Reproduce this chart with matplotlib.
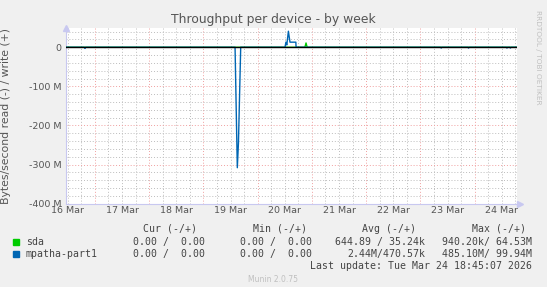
import matplotlib
matplotlib.use("Agg")
import matplotlib.pyplot as plt
import numpy as np

# time in hours since 16 Mar 00:00, values in bytes/s (M = 1e6)
t_start = 11.2
t_end = 210.75  # last update 24 Mar 18:45

days = ["16 Mar", "17 Mar", "18 Mar", "19 Mar", "20 Mar", "21 Mar", "22 Mar", "23 Mar", "24 Mar"]

mpatha_t = [t_start, 19.3, 19.6, 19.9, 86.0, 87.0, 87.5, 88.5,
            108.1, 108.5, 108.9, 109.6, 110.3, 112.9, 113.0,
            177.0, 177.2, 177.5, 189.1, 189.3, 189.6,
            206.1, 206.3, 206.6, 207.6, 207.8, 208.1, t_end]
mpatha_v = [0, 0, -3, 0, 0, -308, -245, 0,
            0, 13, 6, 41, 13, 13, 0,
            0, -2, 0, 0, -2, 0,
            0, -2, 0, 0, -2, 0, 0]

sda_t = [t_start, 116.9, 117.4, 117.9, t_end]
sda_v = [0, 0, 11, 0, 0]

yticks = [0, -100, -200, -300, -400]
ytick_labels = ["0", "-100 M", "-200 M", "-300 M", "-400 M"]

legend_names = ["sda", "mpatha-part1"]
legend_colors = ["#00cc00", "#0066b3"]
cur_vals = ["0.00 /  0.00", "0.00 /  0.00"]
min_vals = ["0.00 /  0.00", "0.00 /  0.00"]
avg_vals = ["644.89 / 35.24k", "2.44M/470.57k"]
max_vals = ["940.20k/ 64.53M", "485.10M/ 99.94M"]

W, H = 547, 287
fig = plt.figure(figsize=(W / 100, H / 100), dpi=100, facecolor="#f0f0f0")
ax = fig.add_axes([66 / W, 1 - 203.7 / H, (517 - 66) / W, (203.7 - 27.7) / H])
ax.set_facecolor("white")

ax.set_xlim(t_start, t_end)
ax.set_ylim(-400, 50)

# grid: minor gray, major red
grid_gray = "#bdbdbd"
grid_red = "#f0a0a0"
dot = (0, (1, 2))
for h in np.arange(0, 216, 6):
    if t_start < h < t_end:
        ax.axvline(h, color=grid_red if h % 24 == 0 else grid_gray, lw=0.7, ls=dot, zorder=1)
for v in np.arange(-380, 50, 20):
    ax.axhline(v, color=grid_red if v % 100 == 0 else grid_gray, lw=0.7, ls=dot, zorder=1)

ax.plot(sda_t, sda_v, color=legend_colors[0], lw=1.0, zorder=3)
ax.plot(mpatha_t, mpatha_v, color=legend_colors[1], lw=1.0, zorder=4)
ax.axhline(0, color="black", lw=1.0, zorder=5)

for s in ["top", "right"]:
    ax.spines[s].set_visible(False)
for s in ["left", "bottom"]:
    ax.spines[s].set_color("#c8c8f0")
    ax.spines[s].set_linewidth(0.8)
# axis arrows
ax.plot([t_start], [50], marker="^", color="#c8c8f0", ms=5, clip_on=False, zorder=6)
ax.plot([t_end + 1.2], [-400], marker=">", color="#c8c8f0", ms=5, clip_on=False, zorder=6)

ax.set_yticks(yticks)
ax.set_yticklabels(ytick_labels)
ax.set_xticks([24 * i + 12 for i in range(len(days))])
ax.set_xticklabels(days)
ax.tick_params(axis="both", length=0, labelsize=6.8, labelcolor="#555555", pad=3)
ax.tick_params(axis="x", pad=2)

ax.set_ylabel("Bytes/second read (-) / write (+)", fontsize=7.8, color="#555555")
ax.yaxis.set_label_coords((11 - 66) / 451, 0.5)
fig.suptitle("Throughput per device - by week", x=273 / W, y=1 - 20 / H, fontsize=8.9,
             color="#555555", va="center")

fig.text(538 / W, 1 - 57 / H, "RRDTOOL / TOBI OETIKER", rotation=270, fontsize=5.3,
         color="#c0c0c0", ha="center", va="center")

mono = "DejaVu Sans Mono"
fs = 7.1
col = "#444444"
def fy(y):
    return 1 - y / H

headers = [("Cur (-/+)", 143), ("Min (-/+)", 252.6), ("Avg (-/+)", 362), ("Max (-/+)", 472)]
for txt, x in headers:
    fig.text(x / W, fy(228.6), txt, family=mono, fontsize=fs, color=col, va="center", ha="left")

row_y = [241.8, 254.0]
for i, name in enumerate(legend_names):
    fig.patches.append(plt.Rectangle((13 / W, fy(row_y[i] + 3)), 6 / W, 6 / H,
                                     transform=fig.transFigure, color=legend_colors[i]))
    fig.text(26 / W, fy(row_y[i]), name, family=mono, fontsize=fs, color=col, va="center")
    for vals, xr in [(cur_vals, 205), (min_vals, 311.8), (avg_vals, 425), (max_vals, 532.4)]:
        fig.text(xr / W, fy(row_y[i]), vals[i], family=mono, fontsize=fs, color=col,
                 va="center", ha="right")

fig.text(532.4 / W, fy(266.2), "Last update: Tue Mar 24 18:45:07 2026", family=mono,
         fontsize=fs, color=col, va="center", ha="right")
fig.text(272.5 / W, fy(279.4), "Munin 2.0.75", fontsize=5.5, color="#c0c0c0",
         va="center", ha="center")

fig.savefig("out.png", dpi=100, facecolor=fig.get_facecolor())
